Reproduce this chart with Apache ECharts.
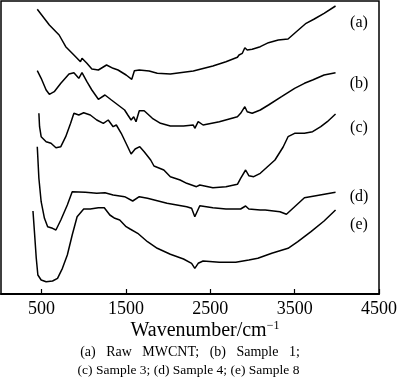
<!DOCTYPE html>
<html>
<head>
<meta charset="utf-8">
<script src="https://cdn.jsdelivr.net/npm/echarts@6/dist/echarts.min.js"></script>
<style>
html,body{margin:0;padding:0;background:#fff;}
#chart{width:400px;height:380px;}
</style>
</head>
<body>
<div id="chart"></div>
<script>
// Wavenumber (cm^-1) and relative transmittance (arbitrary units, offset curves)
var waveA = [450,593,709,787,884,962,980,1038,1097,1174,1271,1349,1407,1503,1570,1601,1659,1776,1872,2027,2299,2531,2686,2822,2841,2880,2910,2938,2997,3093,3190,3306,3422,3520,3636,3733,3849,3985];
var valA  = [284.7,269,259,247.3,239,232.3,235.7,230.7,225,224,229,225.7,224,219,214.7,223.3,224,223,220.7,220,223,228,232.3,236.7,239,240.7,246.3,244,244.7,247.3,251.3,254,255,262.3,270.7,275,280.7,288];

var waveB = [450,496,555,593,651,729,826,884,942,980,1038,1097,1174,1252,1329,1407,1485,1523,1562,1593,1620,1659,1717,1814,1911,2027,2183,2299,2317,2357,2415,2608,2822,2860,2910,2938,2997,3093,3190,3345,3500,3616,3713,3849,3985];
var valB  = [223.3,215.7,204,199.7,202.3,210.7,220,221.3,215.7,221.3,212.3,204,194.7,199,194,189,184,179,174,177.3,172.3,183.3,183.3,175.7,170.7,168,168,169,165.7,172.3,169,172.3,177.3,180.7,187.3,182.3,180.7,184,189,197.3,205.7,210.7,214,219,221.3];

var waveC = [469,477,496,555,613,671,729,787,845,884,942,1000,1078,1155,1233,1291,1349,1387,1445,1523,1562,1610,1665,1717,1794,1833,1950,2027,2143,2221,2337,2376,2531,2686,2822,2860,2919,2957,3015,3093,3267,3364,3422,3500,3616,3713,3810,3887,3985];
var valC  = [180.7,167.3,157.3,152.3,150.7,146.3,147.3,157.3,170.7,180.7,179,181.3,179,174,170.7,174,167.3,169,160.7,147,140,145,147.3,142.3,134,128,124,117.3,114,110.7,107.3,109,106.3,107.3,109.7,115.7,124,118.3,117.3,120.7,134,147,157.3,160.7,160.7,162.3,167.3,172.3,180];

var waveD = [450,469,496,535,573,631,671,729,806,864,1020,1155,1252,1349,1485,1581,1659,1756,1988,2221,2279,2317,2337,2376,2531,2686,2860,2919,2957,3093,3151,3326,3403,3500,3616,3752,3985];
var valD  = [147.3,115.7,92.3,75.7,67.3,65.7,64,74,89,102.3,101.7,100.7,101.3,99,97.3,93,97.3,95.7,90.7,87.3,85.7,77.3,79,88.3,86.3,85,85,88,85,84,84,82.3,79.7,87.3,96.3,98.3,101.7];

var waveE = [399,419,438,457,496,555,631,690,748,806,864,922,1000,1078,1174,1244,1310,1369,1427,1503,1550,1640,1756,1872,2027,2183,2279,2317,2357,2415,2608,2802,2957,3064,3229,3422,3538,3694,3849,3985];
var valE  = [83,59,35.7,19,14,12.3,13,15.7,25.7,39,59,77.3,85,85,86.3,86.3,79,75.7,74,67.3,65,60.7,52.3,45.7,39.7,35,30.7,25.7,30.7,33,31.7,31.7,34,35.7,40.7,45.7,52.3,62.3,73,84];

var tickValues = [500, 1500, 2500, 3500, 4500];
var curveLabels = ['(a)', '(b)', '(c)', '(d)', '(e)'];
var captionLines = ['(a)   Raw   MWCNT;   (b)   Sample   1;', '(c) Sample 3; (d) Sample 4; (e) Sample 8'];
var axisTitle = 'Wavenumber/cm';
var axisTitleSup = '\u22121';

function pairs(w, v) { return w.map(function (x, i) { return [x, v[i]]; }); }
var allSeries = [[waveA, valA], [waveB, valB], [waveC, valC], [waveD, valD], [waveE, valE]];

var serif = '"Liberation Serif", "Times New Roman", serif';
var chart = echarts.init(document.getElementById('chart'), null, {renderer: 'canvas'});

var labelPos = [[359, 23], [359, 84], [359, 128], [359, 197], [359, 225]];
var graphics = curveLabels.map(function (t, i) {
  return {type: 'text', x: labelPos[i][0], y: labelPos[i][1],
    style: {text: t, font: '16px ' + serif, fill: '#000', textAlign: 'center', textVerticalAlign: 'middle'}};
});
graphics.push({type: 'text', x: 205, y: 331, style: {
  text: '{a|' + axisTitle + '}{b|' + axisTitleSup + '}',
  textAlign: 'center', textVerticalAlign: 'middle',
  rich: {a: {fontFamily: serif, fontSize: 20, color: '#000'},
         b: {fontFamily: serif, fontSize: 12, color: '#000', verticalAlign: 'top', padding: [0, 0, 10, 0]}}
}});
graphics.push({type: 'text', x: 190, y: 352, style: {text: captionLines[0], font: '14px ' + serif, fill: '#000', textAlign: 'center', textVerticalAlign: 'middle'}});
graphics.push({type: 'text', x: 188.5, y: 370, style: {text: captionLines[1], font: '13.5px ' + serif, fill: '#000', textAlign: 'center', textVerticalAlign: 'middle'}});

chart.setOption({
  animation: false,
  backgroundColor: '#fff',
  grid: {left: 1, top: 1, right: 14, bottom: 86, show: true, borderColor: '#000', borderWidth: 1.5, containLabel: false},
  xAxis: {
    type: 'value', min: 20, max: 4500,
    axisLine: {show: true, onZero: false, lineStyle: {color: '#000', width: 2}},
    axisTick: {show: true, inside: true, length: 5, lineStyle: {color: '#000', width: 1.2}, customValues: tickValues},
    axisLabel: {show: true, customValues: tickValues, color: '#000', fontFamily: serif, fontSize: 18, margin: 6,
      hideOverlap: false, showMaxLabel: true, formatter: function (v) { return String(v); }},
    splitLine: {show: false}
  },
  yAxis: {type: 'value', min: 0, max: 293, show: false, splitLine: {show: false}},
  series: allSeries.map(function (s) {
    return {type: 'line', data: pairs(s[0], s[1]), symbol: 'none', smooth: false,
      lineStyle: {color: '#000', width: 1.5}, silent: true};
  }),
  graphic: graphics
});
</script>
</body>
</html>
